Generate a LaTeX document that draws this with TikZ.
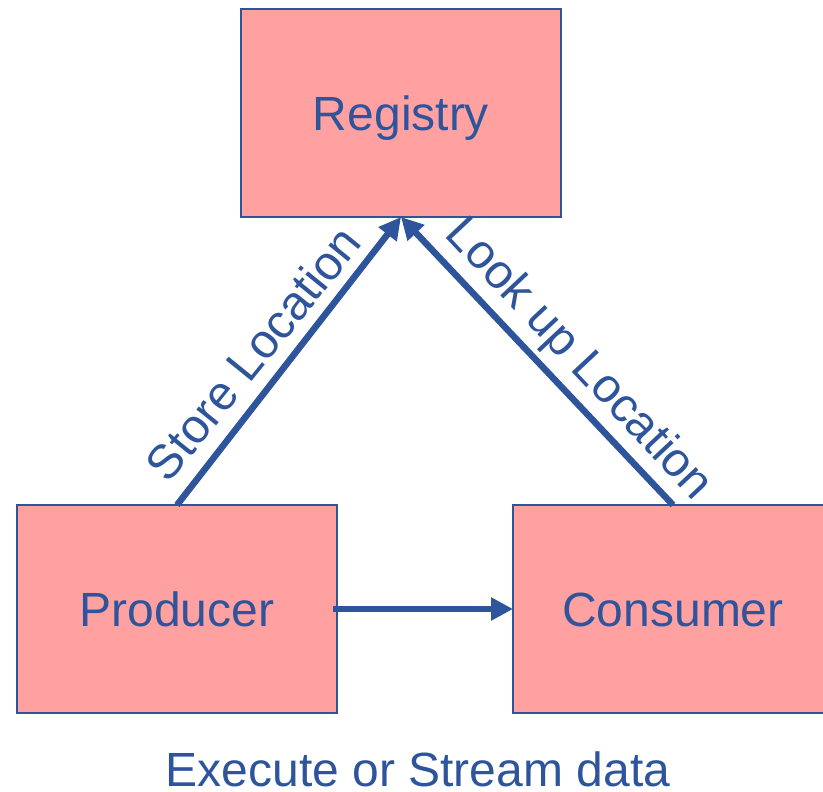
\documentclass[tikz,border=0pt]{standalone}
\usepackage{fontspec}
\setmainfont{Liberation Sans}
\usetikzlibrary{arrows.meta}
\definecolor{boxfill}{RGB}{255,161,161}
\definecolor{inkblue}{RGB}{46,84,156}
\begin{document}
\begin{tikzpicture}[x=1pt,y=-1pt,
  block/.style={draw=inkblue, line width=1.4pt, fill=boxfill,
    minimum width=320pt, minimum height=208pt, inner sep=0pt, outer sep=0pt,
    text=inkblue, font=\fontsize{48}{57}\selectfont,
    text height=34.4pt, text depth=0pt},
  conn/.style={draw=inkblue, line width=6.5pt,
    -{Triangle[length=22pt,width=22pt]}},
  lbl/.style={text=inkblue, font=\fontsize{48}{57}\selectfont, inner sep=0pt}
]
\clip (0,0) rectangle (823,792);

% the three parties
\node[block] (Registry) at (401,113) {Registry};
\node[block] (Producer) at (177,609) {Producer};
\node[block] (Consumer) at (673,609) {Consumer};

% connectors
\draw[conn] ([xshift=-4pt]Producer.east) -- (Consumer.west);
\draw[conn] (Producer.north) -- (Registry.south);
\draw[conn] (Consumer.north) -- (Registry.south);

% connector labels
\node[lbl, rotate=51] (storelbl) at (253,353) {Store Location};
\node[lbl, rotate=-46.8] (lookuplbl) at (578,360) {Look up Location};

% caption
\node[lbl, anchor=base] (caption) at (418,786) {Execute or Stream data};
\end{tikzpicture}
\end{document}
